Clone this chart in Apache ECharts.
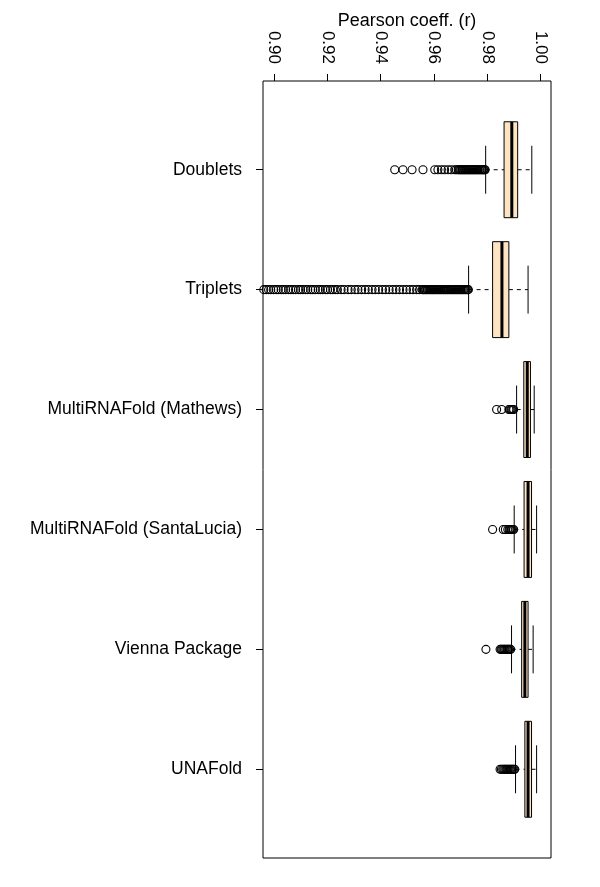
<!DOCTYPE html>
<html>
<head>
<meta charset="utf-8">
<script src="https://cdn.jsdelivr.net/npm/echarts@6.0.0/dist/echarts.min.js"></script>
<style>
  html, body { margin: 0; padding: 0; background: #fff; }
  #chart { width: 600px; height: 887px; }
</style>
</head>
<body>
<div id="chart"></div>
<script>
    // groups, top to bottom
    var categories = ['Doublets', 'Triplets', 'MultiRNAFold (Mathews)', 'MultiRNAFold (SantaLucia)', 'Vienna Package', 'UNAFold'];

    // box stats: lower whisker, Q1, median, Q3, upper whisker
    var whiskerLow = [0.9794, 0.9730, 0.9910, 0.9901, 0.9891, 0.9906];
    var q1 = [0.9863, 0.9820, 0.9937, 0.9938, 0.9929, 0.9941];
    var median = [0.9892, 0.9855, 0.9950, 0.9953, 0.9941, 0.9953];
    var q3 = [0.9914, 0.9881, 0.9962, 0.9966, 0.9953, 0.9966];
    var whiskerHigh = [0.9967, 0.9953, 0.9976, 0.9985, 0.9972, 0.9985];

    var xTicks = [0.90, 0.92, 0.94, 0.96, 0.98, 1.00];

    // outliers per group
    var outDoublets = [0.9453, 0.9484, 0.9518, 0.9559, 0.9603, 0.9615, 0.9628, 0.9640, 0.9653, 0.9665,
        0.9678, 0.9684, 0.9691, 0.9694, 0.9698, 0.9701, 0.9705, 0.9709, 0.9712, 0.9716, 0.9719, 0.9723,
        0.9727, 0.9730, 0.9734, 0.9737, 0.9741, 0.9745, 0.9748, 0.9752, 0.9755, 0.9759, 0.9763, 0.9766,
        0.9770, 0.9773, 0.9777, 0.9780, 0.9784, 0.9787, 0.9790, 0.9792];
    var outTriplets = [0.8962, 0.8971, 0.8980, 0.8988, 0.8999, 0.9008, 0.9016, 0.9027, 0.9035, 0.9044,
        0.9055, 0.9063, 0.9072, 0.9081, 0.9092, 0.9100, 0.9109, 0.9119, 0.9127, 0.9138, 0.9146, 0.9155,
        0.9166, 0.9174, 0.9183, 0.9193, 0.9201, 0.9212, 0.9221, 0.9230, 0.9238,
        0.9252, 0.9263, 0.9278, 0.9290, 0.9304, 0.9315, 0.9329, 0.9342, 0.9354, 0.9368, 0.9380, 0.9393,
        0.9407, 0.9419, 0.9432, 0.9446, 0.9458, 0.9471, 0.9484, 0.9497, 0.9510, 0.9522, 0.9535, 0.9546,
        0.9556, 0.9560, 0.9563, 0.9567, 0.9570, 0.9574, 0.9577, 0.9581, 0.9585, 0.9588, 0.9592, 0.9595,
        0.9599, 0.9602, 0.9606, 0.9610, 0.9613, 0.9617, 0.9620, 0.9624, 0.9627, 0.9631, 0.9635, 0.9638,
        0.9642, 0.9645, 0.9649, 0.9652, 0.9656, 0.9660, 0.9663, 0.9667, 0.9670, 0.9674, 0.9677, 0.9681,
        0.9685, 0.9688, 0.9692, 0.9695, 0.9699, 0.9702, 0.9706, 0.9710, 0.9713, 0.9717, 0.9720, 0.9724,
        0.9727, 0.9729];
    var outMathews = [0.9835, 0.9854, 0.9881, 0.9885, 0.9889, 0.9892, 0.9896, 0.9899];
    var outSantaLucia = [0.9820, 0.9860, 0.9868, 0.9877, 0.9882, 0.9885, 0.9889, 0.9892, 0.9896, 0.9899];
    var outVienna = [0.9795, 0.9848, 0.9852, 0.9855, 0.9859, 0.9863, 0.9866, 0.9870, 0.9874, 0.9877,
        0.9881, 0.9884, 0.9888];
    var outUNAFold = [0.9848, 0.9853, 0.9858, 0.9862, 0.9866, 0.9870, 0.9873, 0.9877, 0.9881, 0.9885,
        0.9888, 0.9892, 0.9896, 0.9900, 0.9903];

    var outliers = [outDoublets, outTriplets, outMathews, outSantaLucia, outVienna, outUNAFold];

    var FONT = '"Liberation Sans", Arial, Helvetica, sans-serif';

    var boxData = categories.map(function (c, i) {
        return [i + 1, whiskerLow[i], q1[i], median[i], q3[i], whiskerHigh[i]];
    });
    var pointData = [];
    outliers.forEach(function (arr, i) {
        arr.forEach(function (v) { pointData.push([v, i + 1]); });
    });

    function renderBox(params, api) {
        var c = api.value(0);
        var pLo = api.coord([api.value(1), c]);
        var pQ1 = api.coord([api.value(2), c]);
        var pMd = api.coord([api.value(3), c]);
        var pQ3 = api.coord([api.value(4), c]);
        var pHi = api.coord([api.value(5), c]);
        var unit = api.size([0, 1])[1];
        var hb = unit * 0.4, hc = unit * 0.2;
        var y = pMd[1];
        var dash = { stroke: '#000', lineWidth: 1, lineDash: [4, 4] };
        var solid = { stroke: '#000', lineWidth: 1 };
        return {
            type: 'group',
            children: [
                { type: 'line', shape: { x1: pLo[0], y1: y, x2: pQ1[0], y2: y }, style: dash },
                { type: 'line', shape: { x1: pQ3[0], y1: y, x2: pHi[0], y2: y }, style: dash },
                { type: 'line', shape: { x1: pLo[0], y1: y - hc, x2: pLo[0], y2: y + hc }, style: solid },
                { type: 'line', shape: { x1: pHi[0], y1: y - hc, x2: pHi[0], y2: y + hc }, style: solid },
                { type: 'rect', shape: { x: pQ1[0], y: y - hb, width: pQ3[0] - pQ1[0], height: 2 * hb },
                    style: { fill: '#FFE4C4', stroke: '#000', lineWidth: 1 } },
                { type: 'line', shape: { x1: pMd[0], y1: y - hb, x2: pMd[0], y2: y + hb },
                    style: { stroke: '#000', lineWidth: 3 } }
            ]
        };
    }

    var chart = echarts.init(document.getElementById('chart'));
    chart.setOption({
        animation: false,
        backgroundColor: '#fff',
        graphic: [{
            type: 'text', x: 407, y: 21,
            style: {
                text: 'Pearson coeff. (r)', font: '18px ' + FONT, fill: '#000',
                align: 'center', verticalAlign: 'middle', textAlign: 'center', textVerticalAlign: 'middle'
            }
        }],
        grid: {
            left: 263, right: 49, top: 81, bottom: 29,
            show: true, borderColor: '#000', borderWidth: 1, backgroundColor: 'transparent'
        },
        xAxis: {
            type: 'value', position: 'top',
            min: 0.8959, max: 1.0039,
            axisLine: { show: false },
            splitLine: { show: false },
            axisTick: { show: true, length: 7, customValues: xTicks, lineStyle: { color: '#000' } },
            axisLabel: {
                customValues: xTicks, rotate: 90, margin: 17,
                fontSize: 17, fontFamily: FONT, color: '#000',
                formatter: function (v) { return v.toFixed(2); }
            }
        },
        yAxis: {
            type: 'value', inverse: true,
            min: 0.26, max: 6.74,
            axisLine: { show: false },
            splitLine: { show: false },
            axisTick: { show: true, length: 7, customValues: [1, 2, 3, 4, 5, 6], lineStyle: { color: '#000' } },
            axisLabel: {
                customValues: [1, 2, 3, 4, 5, 6], margin: 21,
                fontSize: 17.5, fontFamily: FONT, color: '#000',
                formatter: function (v) { return categories[Math.round(v) - 1]; }
            }
        },
        series: [
            {
                type: 'custom',
                renderItem: renderBox,
                encode: { x: [1, 2, 3, 4, 5], y: 0 },
                data: boxData,
                z: 2
            },
            {
                type: 'scatter',
                data: pointData,
                symbol: 'circle',
                symbolSize: 8,
                itemStyle: { color: 'rgba(0,0,0,0)', borderColor: '#000', borderWidth: 1.1, opacity: 1 },
                z: 3
            }
        ]
    });
</script>
</body>
</html>
